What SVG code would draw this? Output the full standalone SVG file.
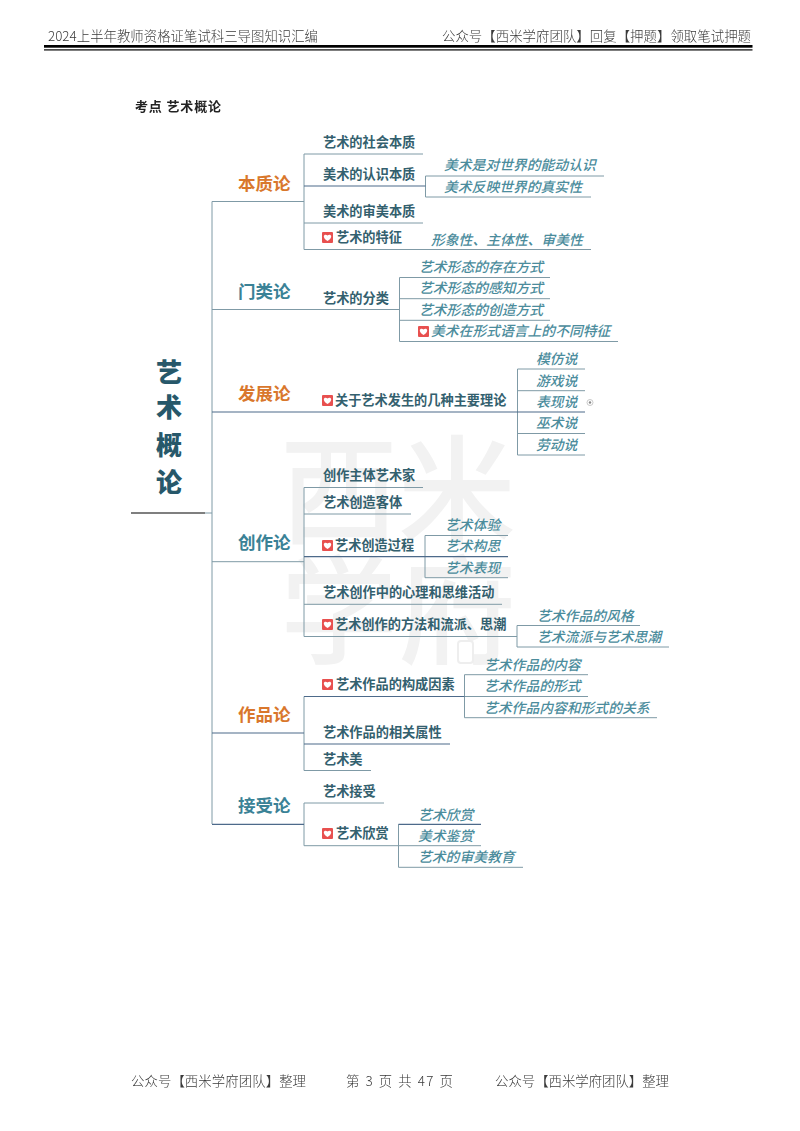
<svg xmlns="http://www.w3.org/2000/svg" width="800" height="1131" viewBox="0 0 800 1131">
<style>
text{font-family:"Noto Sans CJK SC","Noto Sans",sans-serif}
.wm{font-size:118px;fill:#f2f2f2;font-weight:500}
.doc{font-size:13.4px;fill:#3a3a3a;font-family:"Noto Sans CJK SC",sans-serif;font-weight:300}
.root{font-size:26px;font-weight:900;fill:#27586a;text-anchor:middle}
.o{font-size:17.5px;font-weight:700;fill:#d9772c}
.b{font-size:17.5px;font-weight:700;fill:#3a8296}
.m{font-size:13.2px;font-weight:700;fill:#33606e}
.i{font-size:13.8px;font-style:italic;font-weight:500;fill:#4b8c9c}
.l{fill:none;stroke:#7f9aa6;stroke-width:1}
.d{fill:none;stroke:#4d6a8a;stroke-width:1.2}
.r{fill:none;stroke:#555;stroke-width:1.3}
</style>
<defs>
<g id="heart"><rect width="11" height="11" fill="#e8504f" rx="1"/><path d="M5.5 9C2.5 7 1.8 5.5 1.8 4.2 1.8 2.8 3.9 2 5.5 3.6 7.1 2 9.2 2.8 9.2 4.2 9.2 5.5 8.5 7 5.5 9Z" fill="#fff"/></g>
<filter id="soft" x="-5%" y="-20%" width="110%" height="140%"><feGaussianBlur stdDeviation="0.35"/></filter>
</defs>
<rect width="800" height="1131" fill="#fff"/>
<g id="watermark"><text class="wm" x="280" y="535">西米</text><text class="wm" x="280" y="655">学府</text><rect x="458" y="641" width="15" height="22" rx="3" fill="#fff" stroke="#eee" stroke-width="2"/></g>
<g id="page-header" filter="url(#soft)">
<text class="doc" x="48" y="40.5" textLength="270">2024上半年教师资格证笔试科三导图知识汇编</text>
<text class="doc" x="442" y="40.5" textLength="309">公众号【西米学府团队】回复【押题】领取笔试押题</text>
<text x="135" y="110.5" font-size="13" font-weight="700" fill="#222" textLength="86">考点 艺术概论</text>
</g>
<g id="page-rules"><rect x="44" y="45" width="708.5" height="2.7" fill="#000"/><rect x="44" y="49.3" width="708.5" height="1.2" fill="#000"/></g>
<g id="connectors">
<path class="r" d="M131 513H205"/>
<path class="l" d="M205 513H212M212 201.5V824M212 201.5H304M212 309.5H399.5M212 561.7H304M304 154V249.5M304 154H423M304 223H423M304 249.5H591M425.5 176V197M425.5 176H604M425.5 197H591M399.5 277.5V341.5M399.5 277.5H550M399.5 298.7H550M399.5 320.3H550M399.5 341.5H618M517.5 369V455M517.5 369H585M517.5 390.7H585M517.5 433.5H585M517.5 455H585M304 487.5V636.5M304 487.5H423M304 514H411M304 604.3H502M425 535.5V577.7M425 535.5H508M425 577.7H508M304 636.5H517M517 625.5V647M517 625.5H640M517 647H669M304 696.5V770.5M304 770.5H371M464.5 674.7V717.7M464.5 674.7H588M464.5 696.5H588M464.5 717.7H657M304 803V845.7M304 803H384M398.5 824.3V867.3M398.5 845.7H481M398.5 867.3H523M304 845.7H398.5"/>
<path class="d" d="M304 186H425.5M212 412H585M304 556.7H508M212 733H304M304 696.5H464.5M304 744H450M212 824.3H304M398.5 824.3H481"/>
<circle cx="590" cy="402.5" r="3" fill="none" stroke="#bbb" stroke-width="0.8"/><circle cx="590" cy="402.5" r="1.2" fill="#888"/>
</g>
<g id="root"><text class="root" x="169" y="382">艺</text><text class="root" x="169" y="417">术</text><text class="root" x="169" y="455">概</text><text class="root" x="169" y="492">论</text></g>
<g id="n-benzhi"><text class="o" x="238" y="190">本质论</text>
<text class="m" x="323" y="147">艺术的社会本质</text><text class="m" x="323" y="179">美术的认识本质</text><text class="m" x="323" y="216">美术的审美本质</text><use href="#heart" x="322" y="232"/><text class="m" x="336" y="242">艺术的特征</text>
<text class="i" x="444" y="170">美术是对世界的能动认识</text><text class="i" x="444" y="192">美术反映世界的真实性</text><text class="i" x="431" y="245">形象性、主体性、审美性</text></g>
<g id="n-menlei"><text class="b" x="238" y="298">门类论</text><text class="m" x="323" y="303">艺术的分类</text>
<text class="i" x="419" y="272">艺术形态的存在方式</text><text class="i" x="419" y="293">艺术形态的感知方式</text><text class="i" x="419" y="315">艺术形态的创造方式</text><use href="#heart" x="418" y="326"/><text class="i" x="431" y="336">美术在形式语言上的不同特征</text></g>
<g id="n-fazhan"><text class="o" x="238" y="400">发展论</text><use href="#heart" x="322" y="395"/><text class="m" x="335" y="405">关于艺术发生的几种主要理论</text>
<text class="i" x="536" y="364">模仿说</text><text class="i" x="536" y="386">游戏说</text><text class="i" x="536" y="407">表现说</text><text class="i" x="536" y="428">巫术说</text><text class="i" x="536" y="450">劳动说</text></g>
<g id="n-chuangzuo"><text class="b" x="238" y="549">创作论</text>
<text class="m" x="323" y="480">创作主体艺术家</text><text class="m" x="323" y="507">艺术创造客体</text><use href="#heart" x="322" y="540"/><text class="m" x="335" y="550">艺术创造过程</text><text class="m" x="323" y="597">艺术创作中的心理和思维活动</text><use href="#heart" x="322" y="619"/><text class="m" x="335" y="629">艺术创作的方法和流派、思潮</text>
<text class="i" x="445" y="530">艺术体验</text><text class="i" x="445" y="551">艺术构思</text><text class="i" x="445" y="573">艺术表现</text><text class="i" x="537" y="621">艺术作品的风格</text><text class="i" x="537" y="642">艺术流派与艺术思潮</text></g>
<g id="n-zuopin"><text class="o" x="238" y="721">作品论</text><use href="#heart" x="322" y="679"/><text class="m" x="336" y="689">艺术作品的构成因素</text><text class="m" x="323" y="737">艺术作品的相关属性</text><text class="m" x="323" y="764">艺术美</text>
<text class="i" x="484" y="670">艺术作品的内容</text><text class="i" x="484" y="691">艺术作品的形式</text><text class="i" x="484" y="713">艺术作品内容和形式的关系</text></g>
<g id="n-jieshou"><text class="b" x="238" y="812">接受论</text><text class="m" x="323" y="796">艺术接受</text><use href="#heart" x="322" y="828"/><text class="m" x="336" y="838">艺术欣赏</text>
<text class="i" x="418" y="820">艺术欣赏</text><text class="i" x="418" y="841">美术鉴赏</text><text class="i" x="418" y="862">艺术的审美教育</text></g>
<g id="page-footer" filter="url(#soft)">
<text class="doc" x="131" y="1086" textLength="175">公众号【西米学府团队】整理</text>
<text class="doc" x="346" y="1086" textLength="107">第 3 页 共 47 页</text>
<text class="doc" x="495" y="1086" textLength="174">公众号【西米学府团队】整理</text>
</g>
</svg>
